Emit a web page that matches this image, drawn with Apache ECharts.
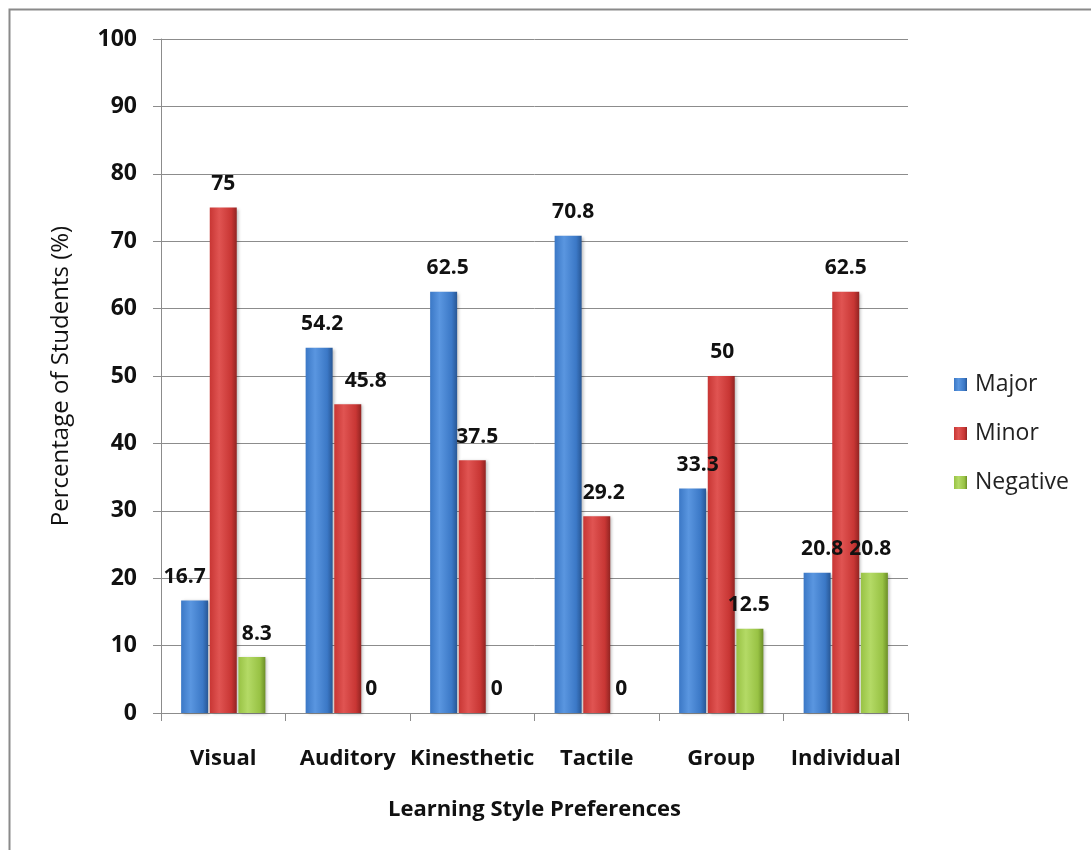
<!DOCTYPE html>
<html>
<head>
<meta charset="utf-8">
<title>Learning Style Preferences</title>
<script src="https://cdn.jsdelivr.net/npm/echarts@6/dist/echarts.min.js"></script>
<style>
  html, body { margin: 0; padding: 0; background: #ffffff; }
  #chart { width: 1091px; height: 850px; }
</style>
</head>
<body>
<div id="chart"></div>
<script>
// Learning style categories and percentage of students per preference level
const categories = ['Visual', 'Auditory', 'Kinesthetic', 'Tactile', 'Group', 'Individual'];
const majorValues = [16.7, 54.2, 62.5, 70.8, 33.3, 20.8];
const minorValues = [75, 45.8, 37.5, 29.2, 50, 62.5];
const negativeValues = [8.3, 0, 0, 0, 12.5, 20.8];
const yTicks = { min: 0, max: 100, interval: 10 };

// Small horizontal nudges for value labels that would otherwise crowd a neighbour
const labelNudge = {
  Major: [-10, 3, 4, 5, 5, 5],
  Minor: [0, 18, 5, 7, 1, 0],
  Negative: [5, -5, -4, -4, -1, -4]
};

const FONT = '"Open Sans", Lato, sans-serif';
const AXIS_GRAY = '#8c8c8c';

// Horizontal gradient giving each bar a rounded, lit look
function barGradient(light, mid, dark) {
  return new echarts.graphic.LinearGradient(0, 0, 1, 0, [
    { offset: 0, color: mid },
    { offset: 0.35, color: light },
    { offset: 0.8, color: mid },
    { offset: 1, color: dark }
  ]);
}

function makeSeries(name, values, colors) {
  return {
    name: name,
    type: 'bar',
    barWidth: 27,
    barGap: '6%',
    itemStyle: {
      color: barGradient(colors[0], colors[1], colors[2]),
      shadowColor: 'rgba(0,0,0,0.25)',
      shadowBlur: 3,
      shadowOffsetX: 2,
      shadowOffsetY: 1
    },
    label: {
      show: true,
      position: 'top',
      distance: 13,
      fontFamily: FONT,
      fontWeight: 'bold',
      fontSize: 21,
      color: '#111111'
    },
    data: values.map((v, i) => ({
      value: v,
      label: { offset: [labelNudge[name][i], 0] }
    }))
  };
}

const chart = echarts.init(document.getElementById('chart'), null, { renderer: 'canvas' });

chart.setOption({
  backgroundColor: '#ffffff',
  animation: false,
  grid: { left: 161, right: 183, top: 39, bottom: 137, containLabel: false },
  graphic: [{
    type: 'polyline',
    shape: { points: [[9.5, 850], [9.5, 9.5], [1091, 9.5]] },
    style: { stroke: '#8a8a8a', lineWidth: 2, fill: null },
    silent: true
  }],
  legend: {
    orient: 'vertical',
    left: 949,
    top: 368,
    itemWidth: 13,
    itemHeight: 13,
    itemGap: 26,
    icon: 'rect',
    textStyle: { fontFamily: FONT, fontSize: 23, color: '#222222', padding: [0, 0, 0, 3] },
    data: ['Major', 'Minor', 'Negative']
  },
  xAxis: {
    type: 'category',
    data: categories,
    name: 'Learning Style Preferences',
    nameLocation: 'middle',
    nameGap: 86,
    nameTextStyle: { fontFamily: FONT, fontWeight: 'bold', fontSize: 22, color: '#111111' },
    axisLine: { lineStyle: { color: AXIS_GRAY, width: 1 } },
    axisTick: { show: true, length: 8, lineStyle: { color: AXIS_GRAY } },
    axisLabel: { interval: 0, margin: 35, fontFamily: FONT, fontWeight: 'bold', fontSize: 22, color: '#111111' }
  },
  yAxis: {
    type: 'value',
    min: yTicks.min,
    max: yTicks.max,
    interval: yTicks.interval,
    name: 'Percentage of Students (%)',
    nameLocation: 'middle',
    nameGap: 88,
    nameTextStyle: { fontFamily: FONT, fontSize: 24, color: '#111111' },
    axisLine: { show: true, lineStyle: { color: AXIS_GRAY, width: 1 } },
    axisTick: { show: true, length: 8, lineStyle: { color: AXIS_GRAY } },
    axisLabel: { margin: 24, fontFamily: FONT, fontWeight: 'bold', fontSize: 23, color: '#111111' },
    splitLine: { show: true, lineStyle: { color: AXIS_GRAY, width: 1 } }
  },
  series: [
    makeSeries('Major', majorValues, ['#5a96e0', '#3b78c6', '#285795']),
    makeSeries('Minor', minorValues, ['#e05452', '#c83634', '#922422']),
    makeSeries('Negative', negativeValues, ['#b4da66', '#98c244', '#6c8f27'])
  ]
});
</script>
</body>
</html>
